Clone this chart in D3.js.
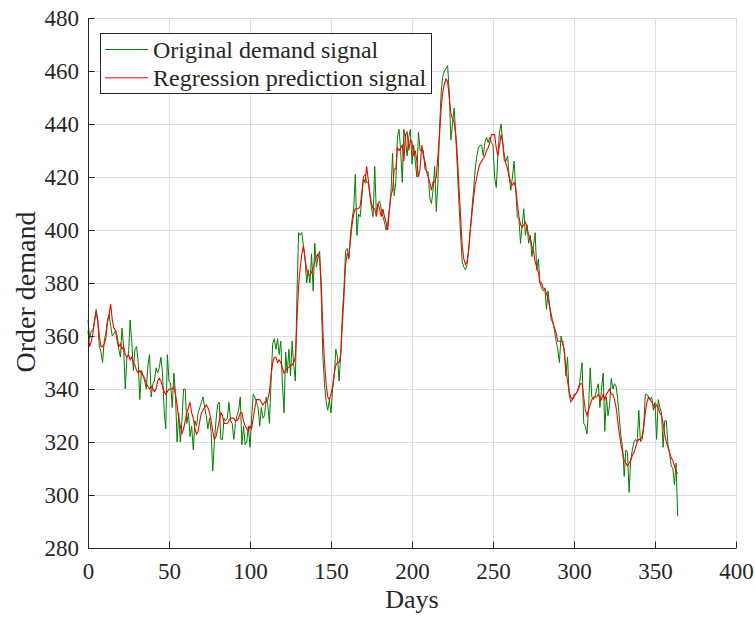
<!DOCTYPE html>
<html>
<head>
<meta charset="utf-8">
<script src="https://cdn.jsdelivr.net/npm/d3@7/dist/d3.min.js"></script>
<style>
    body { margin: 0; background: #fff; }
    svg text { font-family: 'Liberation Serif', 'Times New Roman', serif; fill: #262626; }
</style>
</head>
<body>
<div class="chart"></div>
<script>
// daily order demand (green) and regression prediction (red), day 0..364
var original = [
    366,359,362,362,365,370,366,356,354,350,
    358,361,366,368,364,360,361,362,358,355,
    352,363,356,340,352,353,366,358,347,355,
    356,350,336,347,345,343,340,349,353,337,
    342,343,348,346,348,352,346,332,325,353,
    343,342,333,346,338,320,331,320,328,340,
    340,327,331,322,326,317,328,326,331,333,
    335,337,333,330,325,329,324,309,320,328,
    334,335,321,321,329,328,329,335,328,327,
    321,327,330,332,337,319,326,319,320,326,
    318,329,338,337,335,333,326,333,329,330,
    337,334,327,343,357,359,355,359,353,358,
    342,331,354,346,355,345,358,349,343,376,
    399,398,399,394,389,380,385,380,391,377,
    395,386,390,392,375,352,342,335,332,336,
    331,340,345,355,352,343,353,368,378,392,
    393,389,398,404,408,421,398,406,405,412,
    420,421,418,418,413,408,405,424,406,410,
    411,408,405,403,400,402,408,414,429,413,
    418,435,438,430,418,438,434,428,435,438,
    425,432,426,420,437,430,430,430,423,422,
    422,412,410,415,424,407,418,438,452,458,
    460,461,462,452,434,440,446,436,423,410,
    398,388,386,385,387,392,400,408,415,423,
    428,431,432,432,428,433,435,433,435,433,
    432,420,416,428,437,440,433,426,426,428,
    420,415,420,426,416,405,404,395,402,408,
    398,402,395,398,390,394,399,385,389,380,
    378,377,378,370,377,371,366,365,362,358,
    355,350,360,357,355,345,352,338,335,336,
    338,338,339,340,345,350,327,326,323,333,
    348,337,336,337,340,342,333,340,346,324,
    337,330,334,344,340,342,341,336,329,322,
    318,307,317,316,301,313,317,320,321,320,
    332,320,321,325,338,338,337,336,337,332,
    335,321,336,333,331,318,328,328,319,316,
    311,310,304,312,292
];

var predicted = [
    362,356,358,361,366,369,366,360,356,356,
    357,359,365,368,372,366,363,362,360,356,
    357,355,356,353,352,353,351,352,350,349,
    347,346,347,346,345,344,342,341,340,341,
    340,339,340,343,344,343,341,339,338,339,
    340,340,340,341,338,334,329,326,323,325,
    328,331,333,335,331,329,325,323,324,328,
    331,332,333,334,333,331,328,324,321,322,
    325,328,331,330,327,327,327,328,329,329,
    329,328,328,329,331,331,328,326,325,324,
    326,325,329,333,336,336,336,335,334,335,
    335,336,339,345,350,352,352,350,351,350,
    348,346,347,348,348,349,349,350,352,366,
    379,386,391,394,389,385,383,383,384,386,
    388,390,391,389,380,362,350,342,337,336,
    338,341,346,349,350,350,353,364,375,387,
    391,390,396,402,406,408,408,408,409,414,
    419,418,424,419,414,410,408,408,405,410,
    408,405,408,405,403,400,407,413,415,423,
    423,431,430,431,432,426,436,437,430,434,
    433,428,430,426,420,423,432,428,426,422,
    420,418,415,418,418,420,428,436,446,452,
    455,457,456,450,444,442,441,436,428,416,
    405,394,389,387,388,393,400,406,412,417,
    420,423,425,426,427,428,430,431,433,436,
    436,436,431,428,432,436,433,428,425,423,
    420,418,417,418,416,410,405,402,401,402,
    403,401,398,397,394,392,388,386,384,380,
    380,378,378,376,374,371,368,365,363,361,
    358,358,358,358,354,348,343,339,337,336,
    337,338,339,341,342,342,337,332,330,332,
    334,336,337,337,337,338,337,336,338,336,
    338,339,340,338,338,336,333,328,323,319,
    316,313,312,311,312,313,315,316,318,320,
    321,321,322,326,331,335,337,336,335,334,
    333,334,333,331,330,327,323,320,318,316,
    314,313,311,309,308
];

var days = d3.range(original.length);

var x_ticks = [0, 50, 100, 150, 200, 250, 300, 350, 400];
var y_ticks = [280, 300, 320, 340, 360, 380, 400, 420, 440, 460, 480];

var series_names = ['Original demand signal', 'Regression prediction signal'];
var series_colors = ['#008000', '#ff0000'];

//set the dimensions and margins of the graph
var width = 755;
var height = 617;
var margin = { left: 88, right: 19, top: 18, bottom: 69 };
var plot_w = width - margin.left - margin.right;
var plot_h = height - margin.top - margin.bottom;

var svg = d3.select('.chart')
    .append('svg')
    .attr('width', width)
    .attr('height', height);

var g = svg.append('g')
    .attr('transform', 'translate(' + margin.left + ',' + margin.top + ')');

// scales
var x_scale = d3.scaleLinear().domain([0, 400]).range([0, plot_w]);
var y_scale = d3.scaleLinear().domain([280, 480]).range([plot_h, 0]);

// grid
g.append('g')
    .attr('class', 'grid-x')
    .attr('transform', 'translate(0,' + plot_h + ')')
    .call(d3.axisBottom(x_scale).tickValues(x_ticks).tickSize(-plot_h).tickFormat(''))
    .call(g => g.select('.domain').remove())
    .call(g => g.selectAll('line').attr('stroke', '#dedede'));

g.append('g')
    .attr('class', 'grid-y')
    .call(d3.axisLeft(y_scale).tickValues(y_ticks).tickSize(-plot_w).tickFormat(''))
    .call(g => g.select('.domain').remove())
    .call(g => g.selectAll('line').attr('stroke', '#dedede'));

// lines
var line_orig = d3.line()
    .x(function(d, i) { return x_scale(days[i]); })
    .y(function(d) { return y_scale(d); });

g.append('path')
    .datum(original)
    .attr('fill', 'none')
    .attr('stroke', series_colors[0])
    .attr('stroke-width', 1)
    .attr('d', line_orig);

g.append('path')
    .datum(predicted)
    .attr('fill', 'none')
    .attr('stroke', series_colors[1])
    .attr('stroke-width', 1.1)
    .attr('d', line_orig);

// axes
g.append('g')
    .attr('class', 'x-axis')
    .attr('transform', 'translate(0,' + plot_h + ')')
    .call(d3.axisBottom(x_scale).tickValues(x_ticks).tickSizeInner(-6.5).tickSizeOuter(0).tickPadding(15))
    .call(g => g.selectAll('text').style('font-size', '23px'))
    .call(g => g.selectAll('line, path').attr('stroke', '#262626'));

g.append('g')
    .attr('class', 'y-axis')
    .call(d3.axisLeft(y_scale).tickValues(y_ticks).tickSizeInner(-6.5).tickSizeOuter(0).tickPadding(9))
    .call(g => g.selectAll('text').style('font-size', '23px'))
    .call(g => g.selectAll('line, path').attr('stroke', '#262626'));

// axis labels
svg.append('text')
    .attr('x', margin.left + plot_w / 2)
    .attr('y', 608)
    .attr('text-anchor', 'middle')
    .style('font-size', '26px')
    .text('Days');

svg.append('text')
    .attr('transform', 'translate(35,' + (margin.top + plot_h / 2 + 9) + ') rotate(-90)')
    .attr('text-anchor', 'middle')
    .style('font-size', '28px')
    .text('Order demand');

// legend
var legend = svg.append('g').attr('class', 'legend');
legend.append('rect')
    .attr('x', 100.5).attr('y', 33.5)
    .attr('width', 331).attr('height', 60)
    .attr('fill', '#fff')
    .attr('stroke', '#262626');

series_names.forEach(function(name, i) {
    var yy = 49.5 + i * 28.3;
    legend.append('line')
        .attr('x1', 105).attr('x2', 148)
        .attr('y1', yy).attr('y2', yy)
        .attr('stroke', series_colors[i]);
    legend.append('text')
        .attr('x', 153)
        .attr('y', yy + 8)
        .style('font-size', '24px')
        .text(name);
});
</script>
</body>
</html>
